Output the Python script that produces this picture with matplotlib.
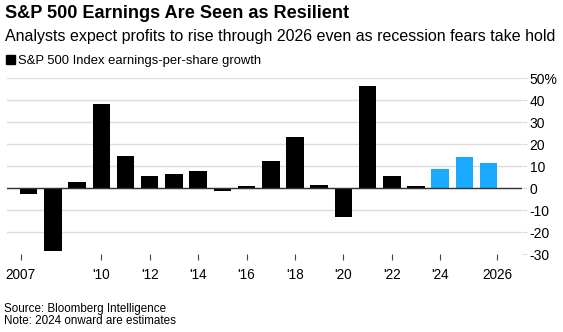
import matplotlib
matplotlib.use("Agg")
from matplotlib import pyplot as plt
from matplotlib.patches import Rectangle

plt.rcParams['font.family'] = ['Liberation Sans', 'DejaVu Sans']

# EPS growth, % year over year (2024 onward are estimates)
years = list(range(2007, 2027))
eps_growth = [-2.9, -28.7, 2.7, 38.4, 14.4, 5.6, 6.4, 8.0, -1.1, 0.8,
              12.2, 23.2, 1.4, -13.1, 46.5, 5.5, 0.9, 8.7, 14.3, 11.4]
first_estimate = 2024

x_ticks = [2006.67, 2010, 2012, 2014, 2016, 2018, 2020, 2022, 2024, 2026.35]
x_labels = ['2007', "'10", "'12", "'14", "'16", "'18", "'20", "'22", "'24", '2026']
y_ticks = [-30, -20, -10, 0, 10, 20, 30, 40, 50]
y_labels = ['-30', '-20', '-10', '0', '10', '20', '30', '40', '50%']

actual_col = '#000000'
estimate_col = '#1aabff'
grid_col = '#dcdcdc'

W, H = 563, 332
fig = plt.figure(figsize=(W / 100, H / 100), dpi=100)
ax = fig.add_axes([7 / W, 78 / H, 515 / W, 175.7 / H])

colors = [estimate_col if y >= first_estimate else actual_col for y in years]
ax.bar(years, eps_growth, width=0.72, color=colors, zorder=3)

ax.set_xlim(2006.10, 2027.38)
ax.set_ylim(-30, 50)

for v in y_ticks[1:]:
    ax.axhline(v, color=grid_col, lw=1.0, zorder=1)
ax.axhline(0, color='#333333', lw=1.0, zorder=4)

ax.set_xticks(x_ticks)
ax.set_xticklabels(x_labels, fontsize=9.8)
ax.set_yticks(y_ticks)
ax.set_yticklabels(y_labels, fontsize=10, ha='left')
ax.yaxis.tick_right()
ax.tick_params(axis='y', length=3.5, width=0.8, color=grid_col, pad=2)
ax.tick_params(axis='x', length=4, width=0.8, color='#444444', pad=6)
for s in ax.spines.values():
    s.set_visible(False)

def px(x, y):
    return x / W, 1 - y / H

fig.text(*px(5, 18.5), 'S&P 500 Earnings Are Seen as Resilient',
         fontsize=13.1, fontweight='bold', va='baseline')
fig.text(*px(5, 40.5), 'Analysts expect profits to rise through 2026 even as recession fears take hold',
         fontsize=11.5, va='baseline')
fig.patches.append(Rectangle(px(6, 64), 9 / W, 9 / H, transform=fig.transFigure,
                             color='black', figure=fig))
fig.text(*px(18, 64), 'S&P 500 Index earnings-per-share growth',
         fontsize=9.4, va='baseline')
fig.text(*px(4, 312.3), 'Source: Bloomberg Intelligence', fontsize=8.4, va='baseline')
fig.text(*px(4, 324.3), 'Note: 2024 onward are estimates', fontsize=8.4, va='baseline')

fig.savefig('out.png', dpi=100)
